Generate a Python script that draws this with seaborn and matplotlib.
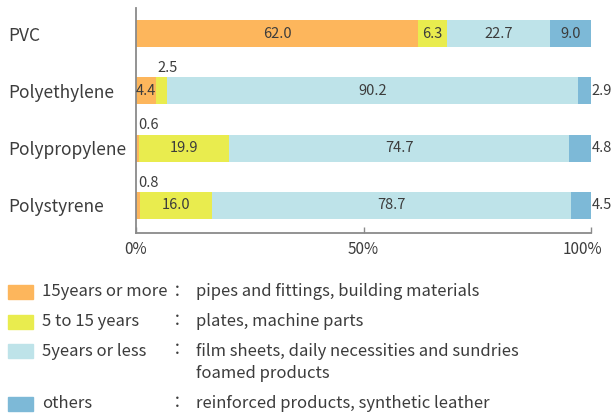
import numpy as np
import pandas as pd
import matplotlib
matplotlib.use("Agg")
import matplotlib.pyplot as plt
from matplotlib.patches import Rectangle
from matplotlib.transforms import ScaledTranslation
import seaborn as sns

# Share of each resin by product lifetime (%)
resins = ["PVC", "Polyethylene", "Polypropylene", "Polystyrene"]
long_life = [62.0, 4.4, 0.6, 0.8]
mid_life = [6.3, 2.5, 19.9, 16.0]
short_life = [22.7, 90.2, 74.7, 78.7]
others = [9.0, 2.9, 4.8, 4.5]

series_names = ["15years or more", "5 to 15 years", "5years or less", "others"]
series_uses = [
    "pipes and fittings, building materials",
    "plates, machine parts",
    "film sheets, daily necessities and sundries\nfoamed products",
    "reinforced products, synthetic leather",
]
tick_values = [0, 50, 100]
tick_labels = ["0%", "50%", "100%"]

colors = ["#FDB65C", "#E9EC4E", "#BEE3E9", "#7DB9D7"]
text_color = "#3c3c3c"

sns.set_theme(style="white")
plt.rcParams["font.family"] = ["Noto Sans CJK JP", "DejaVu Sans"]

W, H = 614, 418
fig = plt.figure(figsize=(W / 100, H / 100), dpi=100)
ax = fig.add_axes([136 / W, 1 - 233 / H, (591 - 136) / W, (233 - 8) / H])

segments = [long_life, mid_life, short_life, others]
cum = np.cumsum(np.array(segments), axis=0)
bar_h = 0.47

# stacked bars: draw cumulative totals from the outermost segment inwards
for i in range(len(segments) - 1, -1, -1):
    df = pd.DataFrame({"resin": resins, "value": cum[i]})
    sns.barplot(data=df, x="value", y="resin", orient="h", color=colors[i],
                width=bar_h, errorbar=None, saturation=1, linewidth=0, ax=ax)

# value labels
for r in range(len(resins)):
    left = 0.0
    for i, seg in enumerate(segments):
        v = seg[r]
        txt = f"{v:.1f}"
        if i == len(segments) - 1 and v < 5:
            ax.text(100.2, r, txt, ha="left", va="center", fontsize=10.5, color=text_color)
        elif v < 4:
            ax.text(left + 0.4, r - bar_h / 2 - 0.04, txt, ha="left", va="bottom",
                    fontsize=10.5, color=text_color)
        else:
            ax.text(left + v / 2, r, txt, ha="center", va="center", fontsize=10.5,
                    color=text_color)
        left += v

ax.set_xlim(0, 100)
ax.set_ylim(3.48, -0.445)
ax.set_xlabel("")
ax.set_ylabel("")
for s in ["top", "right"]:
    ax.spines[s].set_visible(False)
for s in ["left", "bottom"]:
    ax.spines[s].set_color("#8a8a8a")
    ax.spines[s].set_linewidth(1.3)

ax.set_xticks(tick_values, tick_labels)
ax.tick_params(axis="x", direction="in", length=4, width=1, color="#8a8a8a",
               pad=6, labelsize=11, labelcolor=text_color, bottom=True)
# keep the last percentage label inside the figure edge
last = ax.get_xticklabels()[-1]
last.set_transform(last.get_transform() + ScaledTranslation(-9 / 100, 0, fig.dpi_scale_trans))

ax.tick_params(axis="y", length=0, pad=128 * 0.72, labelsize=12.5, labelcolor=text_color)
for lab in ax.get_yticklabels():
    lab.set_ha("left")

# legend with product examples
y = 292
for name, use, col in zip(series_names, series_uses, colors):
    fig.patches.append(Rectangle((8 / W, 1 - (y + 7) / H), 25 / W, 14 / H,
                                 transform=fig.transFigure, color=col, zorder=3))
    fig.text(42 / W, 1 - y / H, name, ha="left", va="center", fontsize=12, color=text_color)
    fig.text(177 / W, 1 - y / H, "：", ha="center", va="center", fontsize=12, color=text_color)
    lines = use.split("\n")
    for k, line in enumerate(lines):
        fig.text(196 / W, 1 - (y + 23 * k) / H, line, ha="left", va="center",
                 fontsize=12, color=text_color)
    y += 23 * (len(lines) - 1) + 29.5

fig.savefig("out.png", dpi=100, facecolor="white")
